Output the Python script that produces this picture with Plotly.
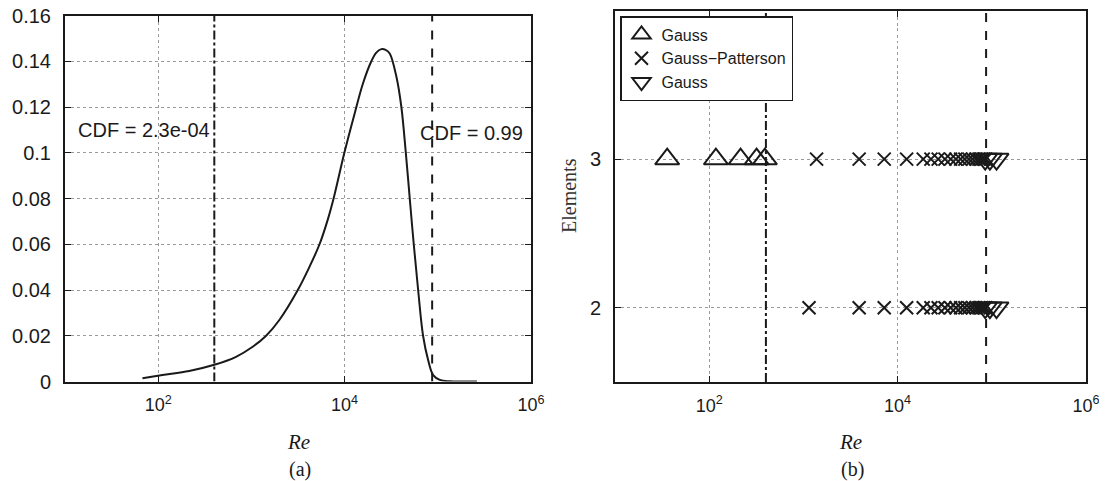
import plotly.graph_objects as go

# ---- data ----
re_pdf = [67.8, 111, 215, 400, 684, 1033, 1439, 1995, 3148, 4207, 5383, 6622, 7621,
          10000, 12823, 15740, 19364, 21878, 24774, 27542, 30479, 35975, 40644, 45290,
          50003, 55208, 61518, 69502, 78705, 89125, 105196, 134896, 177828, 263027]
pdf = [0.0014, 0.0028, 0.0046, 0.0073, 0.0108, 0.0152, 0.020, 0.0269, 0.040, 0.0502,
       0.060, 0.071, 0.080, 0.1004, 0.1172, 0.1303, 0.140, 0.1438, 0.1453, 0.1450,
       0.1434, 0.1332, 0.120, 0.1004, 0.080, 0.060, 0.040, 0.020, 0.0094, 0.0028,
       0.0007, 0.0001, 0.0, 0.0]

cdf_low_re = 400
cdf_high_re = 87000
cdf_low_label = "CDF = 2.3e-04"
cdf_high_label = "CDF = 0.99"

gauss_low_re = [35.8, 117.8, 215.3, 318.4, 390]
gauss_low_el = [3, 3, 3, 3, 3]

gp_re_el3 = [1380, 3908, 7211, 12474, 18707, 22594, 26977, 31769, 36559, 41591,
             46666, 51761, 57148, 62517, 67764, 72945, 77983, 82414, 86099]
gp_re_el2 = [1148, 3908, 7211, 12474, 18707, 22594, 26977, 31769, 36559, 41591,
             46666, 51761, 57148, 62517, 67764, 72945, 77983, 82414, 86099]

gauss_high_re = [85114, 95499, 112202]

x_tickvals = [100, 10000, 1000000]
x_ticktext = ["10<sup>2</sup>", "10<sup>4</sup>", "10<sup>6</sup>"]
y1_tickvals = [0, 0.02, 0.04, 0.06, 0.08, 0.1, 0.12, 0.14, 0.16]
y1_ticktext = ["0", "0.02", "0.04", "0.06", "0.08", "0.1", "0.12", "0.14", "0.16"]
y2_tickvals = [2, 3]
y2_ticktext = ["2", "3"]

SANS = "Liberation Sans, Arial, sans-serif"
SERIF = "Liberation Serif, Times New Roman, serif"
BLACK = "#1a1a1a"

# page body has an 8px default margin: place things in reference pixels minus 8
W, H = 1107, 481
OFF = 8


def px(x):
    return (x - OFF) / W


def py(y):
    return (H - (y - OFF)) / H


fig = go.Figure()

# ---- panel (a) ----
fig.add_trace(go.Scatter(x=re_pdf, y=pdf, mode="lines",
                         line=dict(color=BLACK, width=2, shape="spline", smoothing=1.0),
                         showlegend=False, xaxis="x", yaxis="y"))
fig.add_trace(go.Scatter(x=[cdf_low_re, cdf_low_re], y=[0, 0.16], mode="lines",
                         line=dict(color=BLACK, width=2, dash="dashdot"),
                         showlegend=False, xaxis="x", yaxis="y"))
fig.add_trace(go.Scatter(x=[cdf_high_re, cdf_high_re], y=[0, 0.16], mode="lines",
                         line=dict(color=BLACK, width=2, dash="dash"),
                         showlegend=False, xaxis="x", yaxis="y"))

# ---- panel (b) ----
fig.add_trace(go.Scatter(x=[cdf_low_re, cdf_low_re], y=[1.5, 4], mode="lines",
                         line=dict(color=BLACK, width=2, dash="dashdot"),
                         showlegend=False, xaxis="x2", yaxis="y2"))
fig.add_trace(go.Scatter(x=[cdf_high_re, cdf_high_re], y=[1.5, 4], mode="lines",
                         line=dict(color=BLACK, width=2, dash="dash"),
                         showlegend=False, xaxis="x2", yaxis="y2"))

fig.add_trace(go.Scatter(x=gauss_low_re, y=gauss_low_el, mode="markers", name="Gauss",
                         marker=dict(symbol="triangle-up-open", size=21, color=BLACK,
                                     line=dict(width=2, color=BLACK)),
                         xaxis="x2", yaxis="y2"))
fig.add_trace(go.Scatter(x=gp_re_el3 + gp_re_el2,
                         y=[3] * len(gp_re_el3) + [2] * len(gp_re_el2),
                         mode="markers", name="Gauss\u2212Patterson",
                         marker=dict(symbol="x-thin-open", size=13, color=BLACK,
                                     line=dict(width=2, color=BLACK)),
                         xaxis="x2", yaxis="y2"))
fig.add_trace(go.Scatter(x=gauss_high_re + gauss_high_re,
                         y=[3] * len(gauss_high_re) + [2] * len(gauss_high_re),
                         mode="markers", name="Gauss",
                         marker=dict(symbol="triangle-down-open", size=21, color=BLACK,
                                     line=dict(width=2, color=BLACK)),
                         xaxis="x2", yaxis="y2"))

common_x = dict(type="log", range=[1, 6], tickvals=x_tickvals, ticktext=x_ticktext,
                showline=True, linecolor=BLACK, linewidth=2, mirror="ticks",
                ticks="inside", ticklen=6, tickcolor=BLACK, tickwidth=1,
                showgrid=True, gridcolor="#9a9a9a", griddash="dot", gridwidth=1,
                zeroline=False, tickfont=dict(family=SANS, size=18, color=BLACK),
                ticklabelstandoff=6, automargin=False, ticklabeloverflow="allow")
common_y = dict(showline=True, linecolor=BLACK, linewidth=2, mirror="ticks",
                ticks="inside", ticklen=6, tickcolor=BLACK, tickwidth=1,
                showgrid=True, gridcolor="#9a9a9a", griddash="dot", gridwidth=1,
                zeroline=False, tickfont=dict(family=SANS, size=20, color=BLACK),
                ticklabelstandoff=8, automargin=False, ticklabeloverflow="allow")

fig.update_layout(
    width=W, height=H,
    margin=dict(l=0, r=0, t=0, b=0, autoexpand=False),
    paper_bgcolor="white", plot_bgcolor="white",
    showlegend=True,
    xaxis=dict(domain=[px(65), px(531)], anchor="y", **common_x),
    yaxis=dict(domain=[py(381.5), py(15.5)], anchor="x", range=[0, 0.16],
               tickvals=y1_tickvals, ticktext=y1_ticktext, **common_y),
    xaxis2=dict(domain=[px(615), px(1086)], anchor="y2", **common_x),
    yaxis2=dict(domain=[py(382), py(10.5)], anchor="x2", range=[1.5, 4],
                tickvals=y2_tickvals, ticktext=y2_ticktext, **common_y),
    legend=dict(x=px(620), y=py(16), xanchor="left", yanchor="top",
                bgcolor="white", bordercolor=BLACK, borderwidth=1.5,
                font=dict(family=SANS, size=16, color=BLACK),
                tracegroupgap=0, itemwidth=30),
    annotations=[
        dict(x=1.113, y=0.110, xref="x", yref="y", text=cdf_low_label, showarrow=False,
             xanchor="left", yanchor="middle", font=dict(family=SANS, size=20, color=BLACK)),
        dict(x=4.79, y=0.1086, xref="x", yref="y", text=cdf_high_label, showarrow=False,
             xanchor="left", yanchor="middle", font=dict(family=SANS, size=20, color=BLACK)),
        dict(x=px(298), y=py(442), xref="paper", yref="paper",
             text="<i>Re</i>", showarrow=False, xanchor="center", yanchor="middle",
             font=dict(family=SERIF, size=21, color=BLACK)),
        dict(x=px(300), y=py(469), xref="paper", yref="paper",
             text="(a)", showarrow=False, xanchor="center", yanchor="middle",
             font=dict(family=SERIF, size=20, color=BLACK)),
        dict(x=px(850), y=py(442), xref="paper", yref="paper",
             text="<i>Re</i>", showarrow=False, xanchor="center", yanchor="middle",
             font=dict(family=SERIF, size=21, color=BLACK)),
        dict(x=px(852), y=py(469), xref="paper", yref="paper",
             text="(b)", showarrow=False, xanchor="center", yanchor="middle",
             font=dict(family=SERIF, size=20, color=BLACK)),
        dict(x=px(569), y=py(196), xref="paper", yref="paper",
             text="Elements", showarrow=False, textangle=-90, xanchor="center",
             yanchor="middle", font=dict(family=SERIF, size=20, color="#333333")),
    ],
)

fig.write_html("out.html", config={"displayModeBar": False})
